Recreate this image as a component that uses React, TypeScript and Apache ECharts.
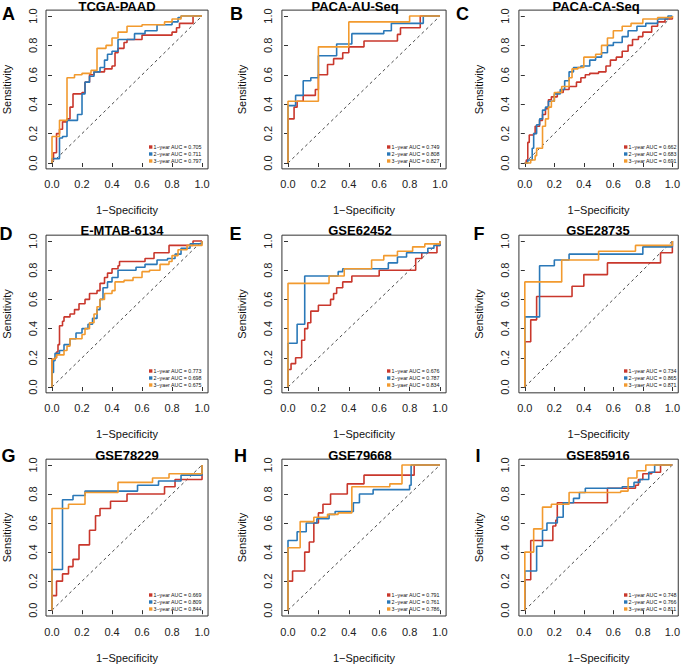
import React, { useEffect, useRef } from "react";
import * as echarts from "echarts";

// ---------------- data ----------------
const panelTitles = ["TCGA-PAAD", "PACA-AU-Seq", "PACA-CA-Seq", "E-MTAB-6134", "GSE62452", "GSE28735", "GSE78229", "GSE79668", "GSE85916"];
const panelLetters = ["A", "B", "C", "D", "E", "F", "G", "H", "I"];
const auc1 = ["0.705", "0.749", "0.662", "0.773", "0.676", "0.734", "0.669", "0.791", "0.748"];
const auc2 = ["0.711", "0.808", "0.683", "0.698", "0.787", "0.865", "0.809", "0.761", "0.766"];
const auc3 = ["0.797", "0.827", "0.691", "0.675", "0.834", "0.871", "0.844", "0.786", "0.811"];
const label1 = ["1−year", "1−year", "1−year", "1−year", "1−year", "1−year", "1−year", "1−year", "1−year"];
const label2 = ["2−year", "2−year", "2−year", "2−year", "2−year", "2−year", "2−year", "2−year", "2−year"];
const label3 = ["3−year", "3−year", "3−year", "3−yaer", "3−yaer", "3−yaer", "3−year", "3−year", "3−year"];
const tickValues = [0, 0.2, 0.4, 0.6, 0.8, 1.0];

// ROC curves: [1-specificity, sensitivity] at each rise (drawn as steps)
const tcga1 = [[0,0],[0,0.02],[0.01,0.07],[0.03,0.2],[0.05,0.23],[0.07,0.28],[0.1,0.3],[0.12,0.38],[0.14,0.47],[0.2,0.48],[0.22,0.55],[0.25,0.6],[0.28,0.62],[0.35,0.64],[0.4,0.66],[0.42,0.75],[0.44,0.78],[0.48,0.82],[0.5,0.84],[0.6,0.87],[0.8,0.89],[0.83,0.92],[0.85,0.95],[0.94,1],[1,1]];
const tcga2 = [[0,0],[0,0.03],[0.05,0.17],[0.07,0.18],[0.1,0.29],[0.17,0.33],[0.2,0.47],[0.22,0.55],[0.25,0.59],[0.28,0.62],[0.32,0.65],[0.35,0.7],[0.37,0.74],[0.4,0.76],[0.44,0.84],[0.55,0.88],[0.62,0.9],[0.7,0.94],[0.8,0.96],[0.84,0.99],[0.86,1],[1,1]];
const tcga3 = [[0,0],[0,0.18],[0.05,0.29],[0.1,0.58],[0.15,0.6],[0.2,0.61],[0.26,0.63],[0.3,0.78],[0.36,0.8],[0.4,0.85],[0.44,0.89],[0.5,0.93],[0.6,0.94],[0.75,0.96],[0.8,0.98],[0.86,1],[1,1]];

const au1 = [[0,0],[0,0.3],[0.04,0.38],[0.06,0.42],[0.1,0.46],[0.18,0.5],[0.2,0.6],[0.26,0.67],[0.3,0.71],[0.36,0.75],[0.4,0.79],[0.5,0.83],[0.72,0.875],[0.74,0.92],[0.87,1],[1,1]];
const au2 = [[0,0],[0,0.39],[0.05,0.46],[0.1,0.56],[0.15,0.58],[0.2,0.73],[0.32,0.81],[0.42,0.88],[0.63,0.9],[0.68,0.95],[0.89,1],[1,1]];
const au3 = [[0,0],[0,0.42],[0.2,0.79],[0.4,0.96],[0.8,1],[1,1]];

const ca1 = [[0,0],[0.01,0.02],[0.02,0.08],[0.02,0.14],[0.03,0.19],[0.06,0.2],[0.07,0.25],[0.1,0.29],[0.12,0.33],[0.14,0.37],[0.16,0.43],[0.18,0.45],[0.22,0.48],[0.26,0.5],[0.3,0.52],[0.35,0.55],[0.38,0.58],[0.41,0.6],[0.44,0.61],[0.5,0.62],[0.55,0.66],[0.58,0.7],[0.62,0.72],[0.66,0.76],[0.7,0.8],[0.73,0.84],[0.77,0.86],[0.8,0.89],[0.86,0.93],[0.9,0.96],[0.95,0.98],[1,1]];
const ca2 = [[0,0],[0.02,0.02],[0.05,0.1],[0.06,0.2],[0.08,0.26],[0.1,0.3],[0.12,0.36],[0.14,0.38],[0.16,0.42],[0.2,0.47],[0.24,0.5],[0.27,0.56],[0.3,0.62],[0.33,0.65],[0.38,0.66],[0.44,0.7],[0.48,0.72],[0.52,0.75],[0.56,0.8],[0.6,0.82],[0.66,0.86],[0.7,0.9],[0.76,0.93],[0.82,0.95],[0.9,0.98],[0.97,1],[1,1]];
const ca3 = [[0,0],[0.04,0.02],[0.07,0.05],[0.08,0.1],[0.12,0.25],[0.14,0.3],[0.16,0.38],[0.18,0.42],[0.2,0.48],[0.25,0.52],[0.3,0.58],[0.32,0.64],[0.36,0.65],[0.4,0.72],[0.48,0.74],[0.52,0.8],[0.56,0.85],[0.6,0.9],[0.66,0.93],[0.72,0.95],[0.8,0.98],[0.9,0.99],[1,1]];

const mtab1 = [[0,0],[0,0.19],[0.02,0.2],[0.03,0.24],[0.04,0.29],[0.05,0.42],[0.07,0.45],[0.08,0.48],[0.12,0.5],[0.15,0.53],[0.18,0.57],[0.22,0.6],[0.25,0.64],[0.3,0.66],[0.32,0.71],[0.35,0.75],[0.37,0.78],[0.4,0.81],[0.44,0.83],[0.45,0.86],[0.62,0.88],[0.68,0.92],[0.78,0.97],[0.94,1],[1,1]];
const mtab2 = [[0,0],[0,0.1],[0.01,0.18],[0.02,0.23],[0.05,0.25],[0.08,0.29],[0.12,0.33],[0.16,0.37],[0.2,0.4],[0.24,0.43],[0.27,0.47],[0.3,0.53],[0.32,0.6],[0.34,0.68],[0.37,0.72],[0.4,0.75],[0.44,0.8],[0.56,0.82],[0.62,0.84],[0.7,0.87],[0.77,0.88],[0.82,0.91],[0.86,0.95],[0.92,0.98],[1,1]];
const mtab3 = [[0,0],[0,0.19],[0.02,0.2],[0.03,0.22],[0.08,0.25],[0.1,0.28],[0.12,0.33],[0.2,0.36],[0.22,0.4],[0.25,0.44],[0.28,0.5],[0.3,0.55],[0.32,0.6],[0.35,0.64],[0.4,0.66],[0.42,0.72],[0.48,0.73],[0.54,0.75],[0.6,0.79],[0.65,0.8],[0.72,0.84],[0.78,0.86],[0.8,0.9],[0.84,0.94],[0.9,0.97],[1,1]];

const g62452a = [[0,0],[0,0.12],[0.02,0.16],[0.05,0.2],[0.09,0.32],[0.11,0.4],[0.13,0.44],[0.15,0.52],[0.2,0.56],[0.28,0.6],[0.3,0.64],[0.32,0.68],[0.36,0.72],[0.42,0.76],[0.6,0.8],[0.84,0.88],[0.88,0.92],[0.98,0.97],[1,1]];
const g62452b = [[0,0],[0,0.3],[0.06,0.43],[0.11,0.76],[0.33,0.79],[0.36,0.81],[0.66,0.85],[0.72,0.89],[0.78,0.92],[0.92,0.95],[0.96,0.97],[1,1]];
const g62452c = [[0,0],[0,0.71],[0.27,0.76],[0.37,0.81],[0.55,0.87],[0.63,0.9],[0.72,0.93],[0.82,0.96],[0.9,0.98],[1,1]];

const g28735a = [[0,0],[0,0.31],[0.04,0.46],[0.08,0.62],[0.32,0.69],[0.4,0.77],[0.56,0.85],[0.92,0.92],[1,1]];
const g28735b = [[0,0],[0,0.48],[0.1,0.83],[0.2,0.87],[0.3,0.91],[0.8,0.96],[1,1]];
const g28735c = [[0,0],[0,0.72],[0.25,0.87],[0.5,0.93],[0.75,0.97],[1,1]];

const g78229a = [[0,0],[0,0.1],[0.03,0.2],[0.07,0.25],[0.11,0.3],[0.14,0.35],[0.18,0.45],[0.25,0.55],[0.29,0.65],[0.32,0.7],[0.39,0.75],[0.5,0.8],[0.75,0.85],[0.82,0.9],[1,1]];
const g78229b = [[0,0],[0,0.28],[0.07,0.76],[0.14,0.79],[0.22,0.82],[0.57,0.86],[0.71,0.89],[0.86,0.93],[1,1]];
const g78229c = [[0,0],[0,0.7],[0.11,0.73],[0.22,0.81],[0.44,0.88],[0.67,0.91],[0.78,0.94],[1,1]];

const g79668a = [[0,0],[0,0.2],[0.03,0.27],[0.11,0.4],[0.14,0.47],[0.17,0.6],[0.2,0.67],[0.23,0.73],[0.28,0.8],[0.39,0.87],[0.5,0.93],[0.83,1],[1,1]];
const g79668b = [[0,0],[0,0.48],[0.06,0.54],[0.12,0.6],[0.19,0.63],[0.27,0.66],[0.31,0.68],[0.43,0.74],[0.47,0.8],[0.56,0.83],[0.8,0.86],[0.81,1],[1,1]];
const g79668c = [[0,0],[0,0.43],[0.08,0.61],[0.17,0.64],[0.26,0.66],[0.33,0.67],[0.42,0.85],[0.67,0.87],[0.75,1],[1,1]];

const g85916a = [[0,0],[0,0.21],[0.04,0.48],[0.19,0.58],[0.21,0.62],[0.22,0.74],[0.56,0.84],[0.75,0.86],[0.77,0.9],[0.8,0.94],[0.86,0.95],[0.92,1],[1,1]];
const g85916b = [[0,0],[0,0.27],[0.08,0.44],[0.12,0.55],[0.15,0.6],[0.22,0.64],[0.26,0.74],[0.33,0.77],[0.37,0.81],[0.41,0.84],[0.66,0.85],[0.74,0.88],[0.78,0.9],[0.84,0.95],[0.88,1],[1,1]];
const g85916c = [[0,0],[0,0.4],[0.06,0.56],[0.12,0.71],[0.18,0.73],[0.3,0.81],[0.65,0.82],[0.7,0.91],[0.76,0.96],[0.82,1],[1,1]];

const curves1 = [tcga1, au1, ca1, mtab1, g62452a, g28735a, g78229a, g79668a, g85916a];
const curves2 = [tcga2, au2, ca2, mtab2, g62452b, g28735b, g78229b, g79668b, g85916b];
const curves3 = [tcga3, au3, ca3, mtab3, g62452c, g28735c, g78229c, g79668c, g85916c];
const diagonal = [[0, 0], [1, 1]];

// ---------------- layout / style ----------------
const COLORS = ["#C9372C", "#2A78B8", "#F29A2E"];
const FONT = "'Liberation Sans', Arial, Helvetica, sans-serif";
const colX0 = [51, 288, 525];
const colW = [151, 152, 152];
const rowY1 = [16, 241, 465];
const rowH = [147, 146, 146];
const letterX = [8.5, 236.5, 462.5, 6, 235.5, 479, 8.5, 240.5, 478];
const letterY = [13.5, 13.5, 13.5, 234, 234, 234, 456, 456, 456];
const titleX = [117, 355, 596, 122, 360, 598, 127, 360, 598];
const titleY = [6, 6, 6, 230, 230, 230, 455, 455, 455];

function buildOption() {
  const grid: any[] = [];
  const xAxis: any[] = [];
  const yAxis: any[] = [];
  const series: any[] = [];
  const graphic: any[] = [];
  const ext = 0.04;

  for (let i = 0; i < 9; i++) {
    const c = i % 3;
    const r = Math.floor(i / 3);
    const x0 = colX0[c];
    const w = colW[c];
    const y1 = rowY1[r];
    const h = rowH[r];
    grid.push({
      left: x0 - ext * w,
      top: y1 - ext * h,
      width: w * (1 + 2 * ext),
      height: h * (1 + 2 * ext),
      show: true,
      borderColor: "#333",
      borderWidth: 1,
      backgroundColor: "transparent",
    });
    const common = {
      type: "value",
      gridIndex: i,
      min: -ext,
      max: 1 + ext,
      splitLine: { show: false },
      axisLine: { show: false },
      axisTick: { show: true, length: 4, customValues: tickValues, lineStyle: { color: "#333", width: 1 } },
      nameLocation: "middle",
      nameTextStyle: { fontSize: 11, color: "#111", fontFamily: FONT },
    };
    xAxis.push({
      ...common,
      axisLabel: { customValues: tickValues, formatter: (v: number) => v.toFixed(1), fontSize: 11, color: "#222", margin: 10, fontFamily: FONT },
      name: "1−Specificity",
      nameGap: 36,
    });
    yAxis.push({
      ...common,
      axisLabel: { customValues: tickValues, formatter: (v: number) => v.toFixed(1), fontSize: 11, color: "#222", margin: 8, rotate: 90, fontFamily: FONT },
      name: "Sensitivity",
      nameGap: 34,
    });
    series.push({
      type: "line",
      xAxisIndex: i,
      yAxisIndex: i,
      data: diagonal,
      symbol: "none",
      silent: true,
      lineStyle: { color: "#333", width: 0.9, type: [3, 3] },
    });
    const sets = [curves1[i], curves2[i], curves3[i]];
    sets.forEach((d, k) => {
      series.push({
        type: "line",
        xAxisIndex: i,
        yAxisIndex: i,
        data: d,
        step: "end",
        symbol: "none",
        lineStyle: { color: COLORS[k], width: 1.6 },
        itemStyle: { color: COLORS[k] },
      });
    });

    // panel letter and title
    graphic.push({
      type: "text",
      x: letterX[i],
      y: letterY[i],
      style: { text: panelLetters[i], fontSize: 18, fontWeight: "bold", fontFamily: FONT, fill: "#000", align: "center", verticalAlign: "middle" },
    });
    graphic.push({
      type: "text",
      x: titleX[i],
      y: titleY[i],
      style: { text: panelTitles[i], fontSize: 13, fontWeight: "bold", fontFamily: FONT, fill: "#000", align: "center", verticalAlign: "middle" },
    });

    // legend (bottom-right inside the plot box)
    const labels = [
      `${label1[i]} AUC = ${auc1[i]}`,
      `${label2[i]} AUC = ${auc2[i]}`,
      `${label3[i]} AUC = ${auc3[i]}`,
    ];
    const y0 = y1 + h;
    const rowsY = [y0 - 16, y0 - 9, y0 - 2];
    labels.forEach((t, k) => {
      graphic.push({
        type: "rect",
        shape: { x: x0 + w - 53, y: rowsY[k] - 1.7, width: 3.4, height: 3.4 },
        style: { fill: COLORS[k] },
      });
      graphic.push({
        type: "text",
        x: x0 + w - 48.5,
        y: rowsY[k],
        style: { text: t, fontSize: 5.3, fontFamily: FONT, fill: "#111", align: "left", verticalAlign: "middle" },
      });
    });
  }

  return {
    animation: false,
    backgroundColor: "#ffffff",
    grid,
    xAxis,
    yAxis,
    series,
    graphic,
  };
}

export default function App() {
  const ref = useRef<HTMLDivElement>(null);
  useEffect(() => {
    if (!ref.current) return;
    const chart = echarts.init(ref.current, undefined, { renderer: "svg" });
    chart.setOption(buildOption() as any);
    return () => chart.dispose();
  }, []);
  return <div ref={ref} style={{ position: "absolute", left: 0, top: 0, width: 683, height: 664 }} />;
}
